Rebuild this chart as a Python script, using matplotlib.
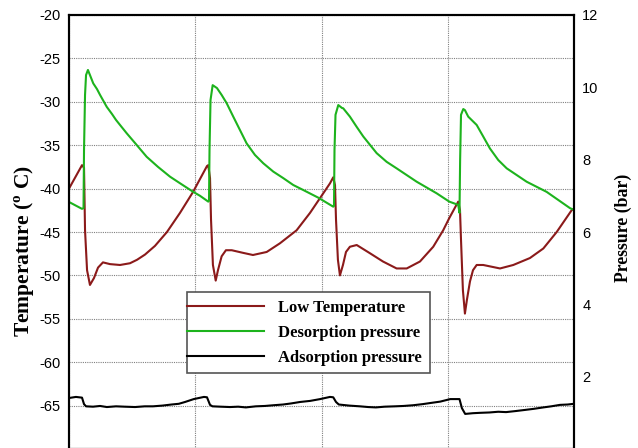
import matplotlib
matplotlib.use("Agg")
import matplotlib.pyplot as plt
from matplotlib.patches import Rectangle

plt.rcParams['axes.unicode_minus'] = False
plt.rcParams['mathtext.fontset'] = 'custom'
plt.rcParams['mathtext.rm'] = 'Liberation Serif'
plt.rcParams['mathtext.bf'] = 'Liberation Serif:bold'

# ---- data (time in s, temperature in deg C, pressure in bar) ----
t_temp = [0, 103, 119, 127, 143, 166, 198, 230, 269, 325, 404, 483, 539, 602, 681, 776, 879, 982, 1093,
          1103, 1117, 1125, 1140, 1162, 1180, 1209, 1243, 1289, 1378, 1457, 1566, 1671, 1803, 1909, 1988, 2067, 2093,
          2107, 2115, 2130, 2146, 2170, 2194, 2225, 2279, 2384, 2487, 2595, 2675, 2780, 2885, 2964, 3012, 3083,
          3097, 3105, 3120, 3136, 3152, 3176, 3200, 3229, 3281, 3414, 3519, 3651, 3757, 3863, 3981, 4000]
low_temp = [-40.0, -37.3, -37.6, -44.8, -49.4, -51.1, -50.3, -49.1, -48.5, -48.7, -48.8, -48.6, -48.2, -47.6, -46.6, -45.0, -42.8, -40.4, -37.4,
            -37.3, -38.8, -43.6, -48.8, -50.6, -49.4, -47.8, -47.1, -47.1, -47.4, -47.65, -47.3, -46.3, -44.8, -42.8, -41.1, -39.4, -38.7,
            -39.6, -43.6, -48.2, -50.0, -48.8, -47.3, -46.7, -46.5, -47.45, -48.4, -49.2, -49.2, -48.4, -46.7, -44.8, -43.4, -41.5,
            -42.5, -45.9, -51.7, -54.4, -52.8, -50.7, -49.4, -48.8, -48.8, -49.2, -48.8, -48.0, -46.9, -45.0, -42.5, -42.3]

t_des = [0, 103, 115, 119, 127, 135, 150, 166, 192, 222, 246, 299, 341, 372, 404, 457, 523, 615, 705, 800, 887, 984, 1038, 1103,
         1109, 1113, 1121, 1138, 1172, 1209, 1249, 1301, 1354, 1407, 1473, 1539, 1618, 1697, 1776, 1856, 1974, 2093,
         2099, 2103, 2111, 2133, 2162, 2172, 2225, 2278, 2331, 2384, 2437, 2516, 2595, 2754, 2912, 3012, 3083,
         3093, 3098, 3105, 3123, 3136, 3162, 3229, 3281, 3334, 3400, 3467, 3625, 3783, 3968, 4000]
des_p = [6.83, 6.64, 6.66, 8.27, 9.79, 10.34, 10.48, 10.34, 10.11, 9.95, 9.79, 9.46, 9.26, 9.10, 8.96, 8.73, 8.46, 8.08, 7.80, 7.53, 7.33, 7.11, 7.00, 6.84,
         6.86, 8.27, 9.65, 10.06, 9.98, 9.79, 9.56, 9.19, 8.82, 8.45, 8.13, 7.90, 7.67, 7.49, 7.30, 7.16, 6.95, 6.70,
         6.72, 8.27, 9.24, 9.51, 9.43, 9.42, 9.19, 8.91, 8.64, 8.41, 8.18, 7.94, 7.76, 7.39, 7.07, 6.84, 6.75,
         6.53, 7.99, 9.24, 9.40, 9.37, 9.19, 8.96, 8.64, 8.31, 7.99, 7.76, 7.39, 7.11, 6.66, 6.61]

t_ads = [0, 55, 103, 119, 135, 190, 246, 300, 372, 440, 523, 600, 665, 740, 812, 870, 919, 988, 1069, 1093,
         1117, 1136, 1200, 1275, 1340, 1401, 1480, 1552, 1620, 1695, 1760, 1830, 1910, 1989, 2067, 2093,
         2115, 2137, 2220, 2304, 2370, 2431, 2500, 2582, 2650, 2726, 2800, 2859, 2940, 3020, 3093,
         3112, 3138, 3200, 3255, 3330, 3400, 3462, 3540, 3611, 3680, 3757, 3820, 3889, 3950, 4000]
ads_p = [1.41, 1.44, 1.42, 1.24, 1.18, 1.17, 1.19, 1.16, 1.18, 1.17, 1.16, 1.18, 1.18, 1.20, 1.23, 1.25, 1.30, 1.38, 1.44, 1.43,
         1.22, 1.18, 1.17, 1.16, 1.17, 1.15, 1.18, 1.19, 1.21, 1.23, 1.26, 1.30, 1.33, 1.38, 1.44, 1.43,
         1.30, 1.23, 1.20, 1.18, 1.16, 1.15, 1.17, 1.18, 1.19, 1.21, 1.24, 1.27, 1.31, 1.38, 1.38,
         1.13, 0.97, 0.99, 1.00, 1.01, 1.03, 1.02, 1.05, 1.08, 1.11, 1.15, 1.18, 1.22, 1.23, 1.25]

labels = ["Low Temperature", "Desorption pressure", "Adsorption pressure"]
t_ticks = [0, 1000, 2000, 3000, 4000]
temp_ticks = [-70, -65, -60, -55, -50, -45, -40, -35, -30, -25, -20]
p_ticks = [2, 4, 6, 8, 10, 12]

# ---- figure ----
W, H = 638, 448
fig = plt.figure(figsize=(W / 100, H / 100), dpi=100)
left, right, top, bottom = 69, 574, 15, 449
ax = fig.add_axes([left / W, (H - bottom) / H, (right - left) / W, (bottom - top) / H])
ax2 = ax.twinx()

red = '#8B1A1A'
green = '#1DB31D'

l1, = ax.plot(t_temp, low_temp, color=red, lw=1.5)
l2, = ax2.plot(t_des, des_p, color=green, lw=1.5)
l3, = ax2.plot(t_ads, ads_p, color='black', lw=1.5)

ax.set_xlim(0, 4000)
ax.set_ylim(-70, -20)
ax2.set_ylim(0, 12)
ax.set_xticks(t_ticks)
ax.set_yticks(temp_ticks)
ax.set_yticklabels([str(v) if v > -70 else '' for v in temp_ticks])
ax2.set_yticks(p_ticks)

ax.grid(True, color='#808080', linestyle=(0, (1, 1)), linewidth=0.8)
ax.set_axisbelow(True)

for a in (ax, ax2):
    for s in a.spines.values():
        s.set_linewidth(1.5)
        s.set_color('black')

ax.tick_params(axis='y', length=0, pad=6, labelsize=10.5)
ax2.tick_params(axis='y', length=0, pad=6, labelsize=10.5)
ax.tick_params(axis='x', length=0, labelbottom=False)
for lab in ax.get_yticklabels() + ax2.get_yticklabels():
    lab.set_fontfamily('Liberation Sans')

fig.text(25 / W, 1 - 251 / H, r'Temperature ($^{\mathbf{o}}$ C)', rotation=90,
         ha='center', va='center', family='Liberation Serif', weight='bold', fontsize=15.5)
fig.text(623 / W, 1 - 228 / H, 'Pressure (bar)', rotation=90,
         ha='center', va='center', family='Liberation Serif', weight='bold', fontsize=12.8)

leg = ax2.legend([l1, l2, l3], labels, loc='upper left',
                 bbox_to_anchor=(180 / W, 1 - 292 / H), bbox_transform=fig.transFigure,
                 prop=dict(family='Liberation Serif', weight='bold', size=12),
                 handlelength=4.6, handletextpad=0.85, labelspacing=0.55,
                 borderpad=0.45, borderaxespad=0, frameon=False)
leg.set_zorder(6)
# white box with a grey frame that starts at the handle lines' left end
fig.canvas.draw()
renderer = fig.canvas.get_renderer()
bb = leg.get_window_extent(renderer)
hx0 = min(h.get_window_extent(renderer).x0 for h in leg.legend_handles)
box = Rectangle((hx0, bb.y0), bb.x1 - hx0, bb.height, transform=None,
                facecolor='white', edgecolor='#555555', linewidth=1.2, zorder=5)
ax2.add_artist(box)

fig.savefig('out.png', dpi=100)
